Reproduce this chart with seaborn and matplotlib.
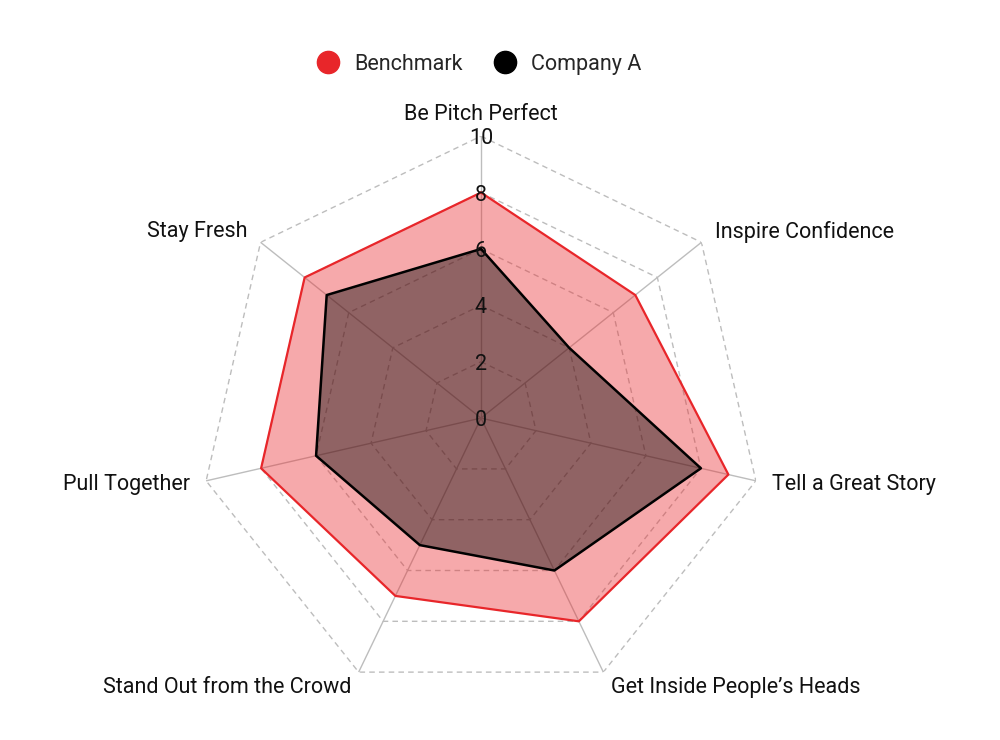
import numpy as np
import pandas as pd
import seaborn as sns
import matplotlib.pyplot as plt
from matplotlib.lines import Line2D

categories = ["Be Pitch Perfect", "Inspire Confidence", "Tell a Great Story",
              "Get Inside People\u2019s Heads", "Stand Out from the Crowd",
              "Pull Together", "Stay Fresh"]
benchmark = [8, 7, 9, 8, 7, 8, 8]
company_a = [6, 4, 8, 6, 5, 6, 7]
ticks = [0, 2, 4, 6, 8, 10]

sns.set_theme(style="white")
plt.rcParams['font.family'] = ['Roboto', 'DejaVu Sans']

n = len(categories)
angles = np.linspace(0, 2 * np.pi, n, endpoint=False)
closed = np.append(angles, angles[0])

fig = plt.figure(figsize=(10, 7.4), dpi=100)
ax = fig.add_axes([0.199, 0.054, 0.564, 0.762], projection='polar')
ax.set_theta_offset(np.pi / 2)
ax.set_theta_direction(-1)
ax.set_ylim(0, 10)
ax.grid(False)
ax.spines['polar'].set_visible(False)
ax.set_xticks([])
ax.set_yticks([])

# polygon grid + spokes
for t in ticks[1:]:
    ax.plot(closed, [t] * (n + 1), color='#bdbdbd', lw=1, ls=(0, (4, 3)), zorder=1)
for a in angles:
    ax.plot([a, a], [0, 10], color='#bdbdbd', lw=1, zorder=1)

df = pd.DataFrame({"angle": closed,
                   "Benchmark": benchmark + benchmark[:1],
                   "Company A": company_a + company_a[:1]})

ax.fill(df["angle"], df["Benchmark"], color='#ea2a2e', alpha=0.4, lw=0, zorder=2)
ax.plot(df["angle"], df["Benchmark"], color='#e8262a', lw=1.6, zorder=3)
ax.fill(df["angle"], df["Company A"], color='black', alpha=0.41, lw=0, zorder=4)
ax.plot(df["angle"], df["Company A"], color='black', lw=1.8, zorder=5)

for t in ticks:
    ax.text(0, t, str(t), ha='center', va='center_baseline', fontsize=15.5,
            color='#111111', zorder=6)

for i, (a, lab) in enumerate(zip(angles, categories)):
    if i == 0:
        ax.text(a, 10.78, lab, ha='center', va='center', fontsize=15.5, color='#111111')
    else:
        ha = 'left' if np.sin(a) > 0 else 'right'
        ax.text(a, 10.6, lab, ha=ha, va='center', fontsize=15.5, color='#111111')

handles = [Line2D([], [], marker='o', ls='', color='#e8262a', markersize=16),
           Line2D([], [], marker='o', ls='', color='black', markersize=16)]
fig.legend(handles, ["Benchmark", "Company A"], loc='center', bbox_to_anchor=(0.474, 0.913),
           ncol=2, frameon=False, fontsize=15.5, handletextpad=0.2, columnspacing=1.0)

fig.savefig("out.png", dpi=100)
